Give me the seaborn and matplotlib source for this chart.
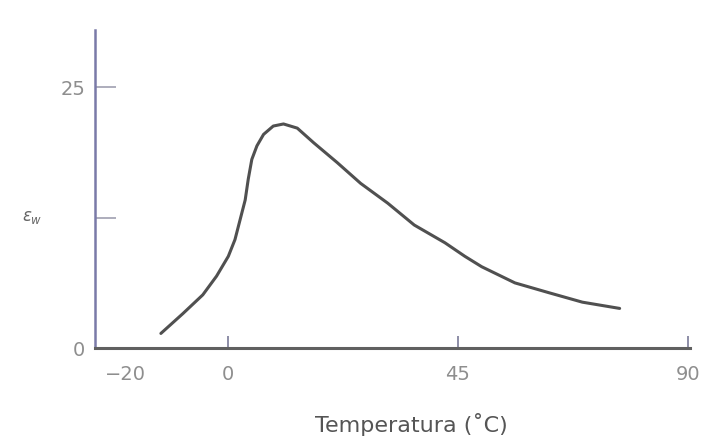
import pandas as pd
import matplotlib.pyplot as plt
import seaborn as sns
import numpy as np

# values
temperatura = [-13.1, -8.8, -4.9, -2.2, 0.1, 1.4, 2.4, 3.4, 4.0, 4.7, 5.7, 7.0,
               8.9, 10.9, 13.6, 16.8, 21.4, 26.0, 31.3, 36.5, 42.5, 46.4, 49.7,
               56.2, 62.9, 69.4, 76.7]
eps_w = [1.4, 3.3, 5.1, 6.9, 8.8, 10.4, 12.3, 14.2, 16.2, 18.1, 19.4, 20.5,
         21.3, 21.5, 21.1, 19.7, 17.8, 15.8, 13.9, 11.8, 10.1, 8.8, 7.8,
         6.25, 5.3, 4.4, 3.8]
xticks = [-20, 0, 45, 90]
xticklabels = ['\u221220', '0', '45', '90']
yticks = [0, 12.5, 25]
yticklabels = ['0', '', '25']

df = pd.DataFrame({'T': temperatura, 'eps': eps_w})

sns.set_style('white')
plt.rcParams['font.family'] = ['DejaVu Sans']

fig = plt.figure(figsize=(7.01, 4.36), dpi=100)
ax = fig.add_axes([0.1355, 0.2018, 0.849, 0.729])

sns.lineplot(data=df, x='T', y='eps', ax=ax, color='#505050', linewidth=2.2,
             solid_capstyle='round', solid_joinstyle='round')

ax.set_xlim(-26, 90.5)
ax.set_ylim(0, 30.5)
ax.set_xticks(xticks)
ax.set_xticklabels(xticklabels)
ax.set_yticks(yticks)
ax.set_yticklabels(yticklabels)
ax.tick_params(bottom=True, left=True, direction='in', width=1.2,
               colors='#7a7a98', labelcolor='#8e8e8e', labelsize=14)
ax.tick_params(axis='x', length=9, pad=12)
ax.tick_params(axis='y', length=15, pad=7, colors='#a0a0b0', labelcolor='#8e8e8e')

# the reference has no marks at -20 and 0 on y
ax.xaxis.get_major_ticks()[0].tick1line.set_visible(False)
ax.yaxis.get_major_ticks()[0].tick1line.set_visible(False)

for s in ['top', 'right']:
    ax.spines[s].set_visible(False)
ax.spines['left'].set_color('#7a7aa8')
ax.spines['bottom'].set_color('#606060')
ax.spines['left'].set_linewidth(1.8)
ax.spines['bottom'].set_linewidth(2.2)

ax.set_xlabel('Temperatura (\u02daC)', fontsize=16, color='#555555', va='center')
ax.xaxis.set_label_coords(0.531, -0.242)
ax.set_ylabel(r'$\varepsilon_w$', fontsize=12, color='#666666', rotation=0)
ax.yaxis.set_label_coords(-0.105, 0.385)

plt.savefig('out.png', dpi=100)
